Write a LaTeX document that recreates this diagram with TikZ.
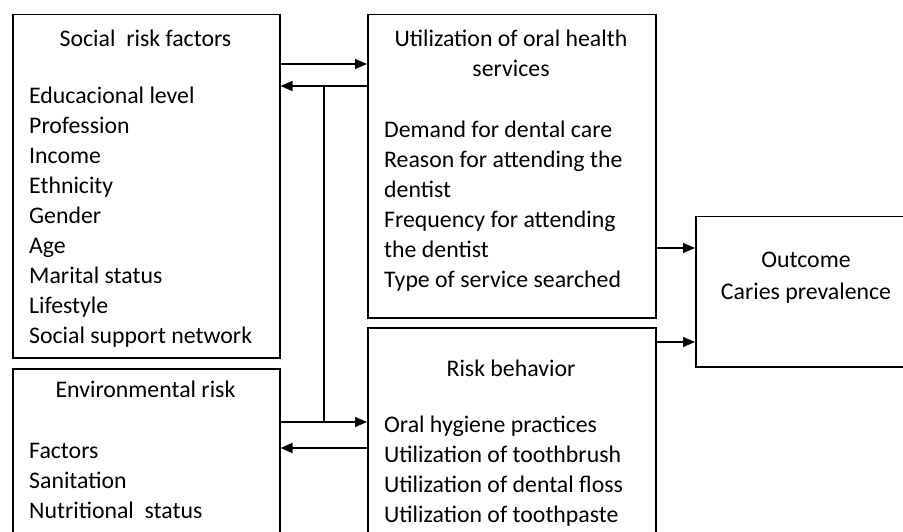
\documentclass[tikz,border=0pt]{standalone}
\usepackage{fontspec}
\setmainfont{Carlito}
\usetikzlibrary{arrows.meta}

\tikzset{
    box/.style={draw, line width=1.5pt, rectangle, anchor=north west, inner sep=0pt},
    heading/.style={anchor=base, inner sep=0pt, align=center},
    items/.style={anchor=base west, inner sep=0pt, align=left},
    link/.style={line width=1.5pt},
    arr/.style={link, -{Triangle[length=12pt,width=10pt]}}
}

\begin{document}
\begin{tikzpicture}[x=1pt, y=-1pt, font=\fontsize{23.8}{30}\selectfont]

    % Fix the page to the size of the reference and cut what runs past it
    \useasboundingbox (0,0) rectangle (903,532);
    \clip (0,0) rectangle (903,532);

    % The five boxes (the two lower ones and the outcome run past the page)
    \node[box, minimum width=267pt, minimum height=343pt] (social) at (12,14) {};
    \node[box, minimum width=267pt, minimum height=200pt] (env) at (12,368) {};
    \node[box, minimum width=288pt, minimum height=303pt] (util) at (367,14) {};
    \node[box, minimum width=288pt, minimum height=240pt] (risk) at (367,327) {};
    \node[box, minimum width=222pt, minimum height=150pt] (outcome) at (695,216) {};

    % Headings (a node of several lines sits on the baseline of its last line)
    \node[heading] (socialhead) at (145.5,47) {Social\ \ risk factors};
    \node[heading] (envhead) at (145.5,397) {Environmental risk};
    \node[heading] (utilhead) at (511,77) {Utilization of oral health\\services};
    \node[heading] (riskhead) at (511,376) {Risk behavior};
    \node[heading] (outcomehead) at (806,267) {Outcome};
    \node[heading] (caries) at (806,299) {Caries prevalence};

    % Lists of factors
    \node[items] (sociallist) at (29,343) {Educacional level\\Profession\\Income\\Ethnicity\\Gender\\Age\\Marital status\\Lifestyle\\Social support network};
    \node[items] (envlist) at (29,518) {Factors\\Sanitation\\Nutritional\ \ status};
    \node[items] (utillist) at (384,287) {Demand for dental care\\Reason for attending the\\dentist\\Frequency for attending\\the dentist\\Type of service searched};
    \node[items] (risklist) at (384,522) {Oral hygiene practices\\Utilization of toothbrush\\Utilization of dental floss\\Utilization of toothpaste};

    % Arrows between the social and environmental boxes and the middle column
    \draw[arr] ([yshift=-50pt]social.north east) -- ([yshift=-50pt]util.north west);
    \draw[arr] ([yshift=-72pt]util.north west) -- coordinate[pos=0.5] (j1) ([yshift=-72pt]social.north east);
    \draw[arr] ([yshift=-54pt]env.north east) -- coordinate[pos=0.5] (j2) ([yshift=-95pt]risk.north west);
    \draw[arr] ([yshift=-121pt]risk.north west) -- ([yshift=-80pt]env.north east);
    \draw[link] (j1) -- (j2);

    % Arrows into the outcome
    \draw[arr] ([yshift=-234pt]util.north east) -- ([yshift=-32pt]outcome.north west);
    \draw[arr] ([yshift=-15pt]risk.north east) -- ([yshift=-126pt]outcome.north west);

\end{tikzpicture}
\end{document}
